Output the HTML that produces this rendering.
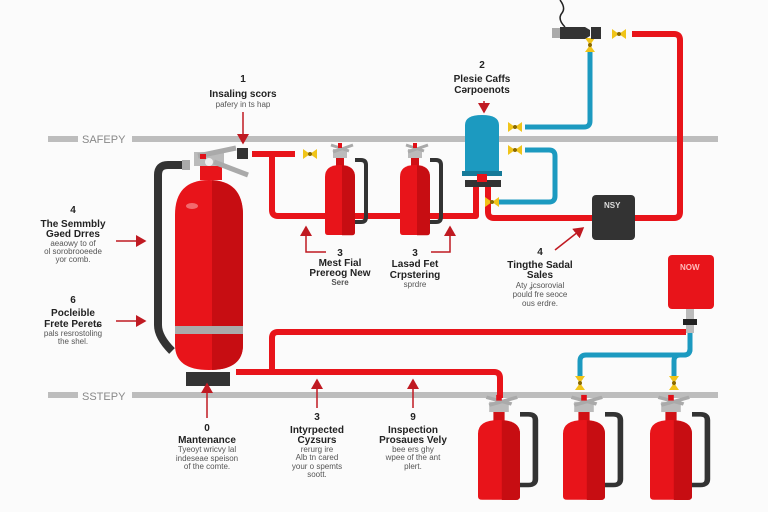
<!DOCTYPE html>
<html><head><meta charset="utf-8"><style>
html,body{margin:0;padding:0;background:#fbfbfb}
svg{display:block}
text{font-family:"Liberation Sans",sans-serif;fill:#222}
.b{font-weight:bold;font-size:10px}
.s{font-size:8px;fill:#555}
</style></head><body>
<svg width="768" height="512" viewBox="0 0 768 512" xmlns="http://www.w3.org/2000/svg">
<defs>
<g id="ext">
 <path d="M30,-5 h6 q5,0 5,5 v52 q0,5 -5,5 h-6" fill="none" stroke="#333" stroke-width="4"/>
 <rect x="11" y="-8" width="8" height="10" fill="#d01015"/>
 <rect x="8" y="-16" width="14" height="9" fill="#bbb"/>
 <path d="M6,-20 L24,-14 M8,-13 L28,-20" stroke="#aaa" stroke-width="3"/>
 <rect x="13" y="-22" width="4" height="5" fill="#e01018"/>
 <path d="M0,12 q0,-12 15,-12 q15,0 15,12 v55 q0,3 -3,3 h-24 q-3,0 -3,-3z" fill="#e8141a"/>
 <path d="M17,0.2 q13,1 13,12 v55 q0,3 -3,3 h-10z" fill="#c70d12"/>
</g>
<g id="yv"><path d="M0,-5 L7,0 L0,5 Z M14,-5 L7,0 L14,5 Z" fill="#f0c419"/><circle cx="7" cy="0" r="2" fill="#8a6a00"/></g>
<marker id="ar" markerWidth="8" markerHeight="8" refX="6" refY="4" orient="auto"><path d="M0,0 L7,4 L0,8 Z" fill="#c01a22"/></marker>
</defs>

<!-- gray bars -->
<rect x="48" y="136" width="30" height="6" fill="#bdbdbd"/><rect x="132" y="136" width="586" height="6" fill="#bdbdbd"/>
<text x="82" y="143" font-size="11" fill="#888" style="fill:#888">SAFEPY</text>
<rect x="48" y="392" width="30" height="6" fill="#bdbdbd"/><rect x="132" y="392" width="586" height="6" fill="#bdbdbd"/>
<text x="82" y="400" font-size="11" style="fill:#888">SSTEPY</text>

<!-- red pipes -->
<g fill="none" stroke="#e8141a" stroke-width="6" stroke-linejoin="round">
 <path d="M252,154 H295"/>
 <path d="M272,154 V210 q0,6 6,6 H476 V183"/>
 <path d="M488,183 V212 q0,6 6,6 H594"/>
 <path d="M634,218 H674 q6,0 6,-6 V40 q0,-6 -6,-6 H632"/>
 <path d="M272,370 V338 q0,-6 6,-6 H686"/>
 <path d="M236,372 H494 q6,0 6,6 V398"/>
</g>
<!-- blue pipes -->
<g fill="none" stroke="#1c9ac0" stroke-width="5" stroke-linejoin="round">
 <path d="M525,127 H584 q6,0 6,-6 V52"/>
 <path d="M525,150 H549 q6,0 6,6 V196 q0,6 -6,6 H497"/>
 <path d="M690,330 V349 q0,6 -6,6 H586 q-6,0 -6,6 V380"/>
 <path d="M690,349 q0,6 -6,6 H680 q-6,0 -6,6 V380"/>
</g>
<!-- yellow valves -->
<use href="#yv" x="303" y="154"/>
<use href="#yv" x="508" y="127"/><use href="#yv" x="508" y="150"/><use href="#yv" x="485" y="202"/>
<use href="#yv" x="612" y="34"/>
<g transform="translate(590,38) rotate(90)"><use href="#yv" x="0" y="0"/></g>
<g transform="translate(580,376) rotate(90)"><use href="#yv" x="0" y="0"/></g>
<g transform="translate(674,376) rotate(90)"><use href="#yv" x="0" y="0"/></g>

<!-- plug -->
<path d="M565,27 q-8,-8 -3,-14 q4,-5 -2,-13" fill="none" stroke="#222" stroke-width="1.5"/>
<rect x="552" y="28" width="8" height="10" fill="#aaa"/>
<path d="M560,27 H585 L590,30 V36 L585,39 H560Z" fill="#333"/>
<rect x="591" y="27" width="10" height="12" fill="#333"/>

<!-- blue tank -->
<path d="M465,125 q0,-10 17,-10 q17,0 17,10 V172 H465Z" fill="#1c9ac0"/>
<rect x="462" y="171" width="40" height="5" fill="#157a99"/>
<rect x="465" y="180" width="36" height="7" fill="#333"/>
<rect x="477" y="174" width="10" height="8" fill="#e8141a"/>
<path d="M484,101 V112" stroke="#c01a22" stroke-width="1.5" marker-end="url(#ar)"/>

<!-- dark box -->
<rect x="592" y="195" width="43" height="45" rx="4" fill="#333"/>
<text x="604" y="208" font-size="8" style="fill:#ddd" font-weight="bold">NSY</text>
<!-- red box -->
<rect x="668" y="255" width="46" height="54" rx="4" fill="#e8141a"/>
<text x="680" y="270" font-size="8" style="fill:#fbb" font-weight="bold">NOW</text>
<rect x="686" y="309" width="8" height="24" fill="#bbb"/><rect x="683" y="319" width="14" height="6" fill="#222"/>

<!-- big extinguisher -->
<path d="M186,165 H168 q-10,0 -10,10 V325 q0,12 14,26" fill="none" stroke="#333" stroke-width="8"/>
<rect x="182" y="160" width="8" height="10" fill="#aaa"/>
<rect x="200" y="160" width="22" height="20" fill="#e8141a"/>
<rect x="194" y="152" width="30" height="14" fill="#bbb"/>
<circle cx="209" cy="162" r="4" fill="#eee"/>
<path d="M198,156 L236,148 M214,162 L248,175" stroke="#aaa" stroke-width="5"/>
<rect x="200" y="154" width="6" height="5" fill="#e01018"/>
<rect x="237" y="148" width="11" height="11" fill="#333"/>
<path d="M175,215 q0,-35 34,-35 q34,0 34,35 V345 q0,25 -34,25 q-34,0 -34,-25Z" fill="#e8141a"/>
<path d="M212,180.2 q31,2 31,35 V345 q0,24 -31,25Z" fill="#c70d12"/>
<ellipse cx="192" cy="206" rx="6" ry="3" fill="#f26a6d"/>
<rect x="175" y="326" width="68" height="8" fill="#aaa"/>
<rect x="186" y="372" width="44" height="14" fill="#333"/>

<!-- small extinguishers -->
<use href="#ext" x="325" y="165"/>
<use href="#ext" x="400" y="165"/>
<g transform="translate(478,420) scale(1.4,1.14)"><use href="#ext"/></g>
<g transform="translate(563,420) scale(1.4,1.14)"><use href="#ext"/></g>
<g transform="translate(650,420) scale(1.4,1.14)"><use href="#ext"/></g>

<!-- arrows -->
<g fill="none" stroke="#c01a22" stroke-width="1.5">
 <path d="M243,112 V143" marker-end="url(#ar)"/>
 <path d="M116,241 H145" marker-end="url(#ar)"/>
 <path d="M116,321 H145" marker-end="url(#ar)"/>
 <path d="M326,252 H306 V227" marker-end="url(#ar)"/>
 <path d="M431,252 H450 V227" marker-end="url(#ar)"/>
 <path d="M555,250 L583,228" marker-end="url(#ar)"/>
 <path d="M207,418 V384" marker-end="url(#ar)"/>
 <path d="M317,408 V380" marker-end="url(#ar)"/>
 <path d="M413,408 V380" marker-end="url(#ar)"/>
</g>

<!-- labels -->
<g text-anchor="middle">
<text x="243" y="82" class="b">1</text>
<text x="243" y="97" class="b">Insaling scors</text>
<text x="243" y="107" class="s">pafery in ts hap</text>

<text x="482" y="68" class="b">2</text>
<text x="482" y="82" class="b">Plesie Caffs</text>
<text x="482" y="93" class="b">Cərpoenots</text>

<text x="73" y="213" class="b">4</text>
<text x="73" y="227" class="b">The Semmbly</text>
<text x="73" y="237" class="b">Gəed Drres</text>
<text x="73" y="246" class="s">aeaowy to of</text>
<text x="73" y="254" class="s">ol sorobrooeede</text>
<text x="73" y="262" class="s">yor comb.</text>

<text x="73" y="303" class="b">6</text>
<text x="73" y="316" class="b">Pocleible</text>
<text x="73" y="327" class="b">Frete Peretɕ</text>
<text x="73" y="336" class="s">pals resrostoling</text>
<text x="73" y="344" class="s">the shel.</text>

<text x="340" y="256" class="b">3</text>
<text x="340" y="266" class="b">Mest Fial</text>
<text x="340" y="276" class="b">Prereog New</text>
<text x="340" y="285" class="s" font-weight="bold">Sere</text>

<text x="415" y="256" class="b">3</text>
<text x="415" y="267" class="b">Lasəd Fet</text>
<text x="415" y="278" class="b">Crpstering</text>
<text x="415" y="287" class="s">sprdre</text>

<text x="540" y="255" class="b">4</text>
<text x="540" y="268" class="b">Tingthe Sadal</text>
<text x="540" y="278" class="b">Sales</text>
<text x="540" y="288" class="s">Aty ʝcsorovial</text>
<text x="540" y="297" class="s">pould fre seoce</text>
<text x="540" y="306" class="s">ous erdre.</text>

<text x="207" y="431" class="b">0</text>
<text x="207" y="443" class="b">Mantenance</text>
<text x="207" y="452" class="s">Tyeoyt wricvy lal</text>
<text x="207" y="461" class="s">indeseae speison</text>
<text x="207" y="469" class="s">of the comte.</text>

<text x="317" y="420" class="b">3</text>
<text x="317" y="433" class="b">Intyrpected</text>
<text x="317" y="443" class="b">Cyzsurs</text>
<text x="317" y="452" class="s">rerurg ire</text>
<text x="317" y="460" class="s">Alb tn cared</text>
<text x="317" y="469" class="s">your o spemts</text>
<text x="317" y="477" class="s">soott.</text>

<text x="413" y="420" class="b">9</text>
<text x="413" y="433" class="b">Inspection</text>
<text x="413" y="443" class="b">Prosaues Vely</text>
<text x="413" y="452" class="s">bee ers ghy</text>
<text x="413" y="460" class="s">wpee of the ant</text>
<text x="413" y="469" class="s">plert.</text>
</g>
</svg>
</body></html>
